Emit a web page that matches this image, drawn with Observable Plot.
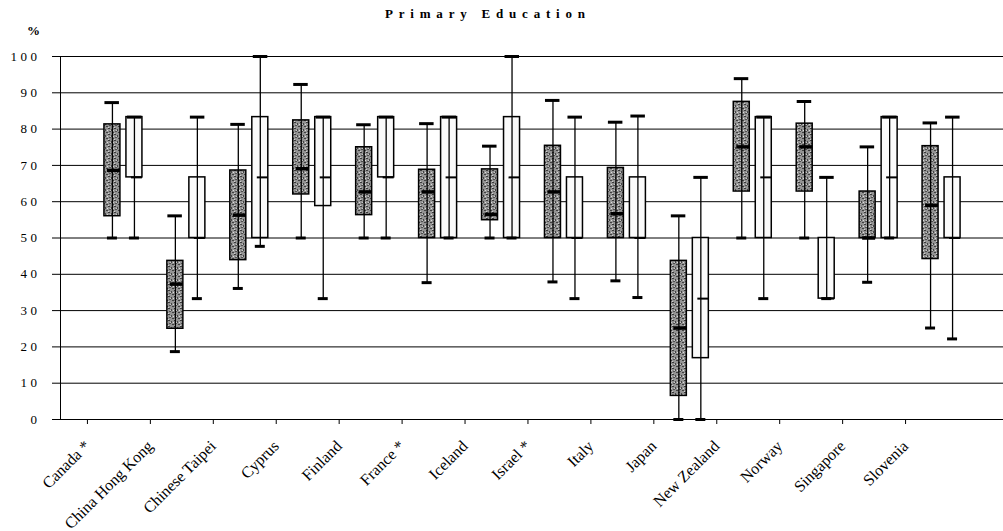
<!DOCTYPE html>
<html>
<head>
<meta charset="utf-8">
<script src="https://cdn.jsdelivr.net/npm/d3@7"></script>
<script src="https://cdn.jsdelivr.net/npm/@observablehq/plot@0.6"></script>
<style>
  body { margin: 0; background: #fff; }
  #wrap { position: relative; width: 1003px; }
  #hdr { position: relative; height: 44px; font-family: "Liberation Serif", serif; color: #000; }
  #title { position: absolute; left: 385px; top: 6px; font-size: 13px; font-weight: bold; letter-spacing: 5.8px; }
  #pct { position: absolute; left: 27px; top: 23px; font-size: 13px; font-weight: bold; }
  svg [aria-label="y-axis tick label"] text { letter-spacing: 3.5px; }
</style>
</head>
<body>
<div id="wrap">
  <div id="hdr"><div id="title">Primary Education</div><div id="pct">%</div></div>
  <div id="chart"></div>
</div>
<script>
const countries = ["Canada *","China Hong Kong","Chinese Taipei","Cyprus","Finland","France *","Iceland","Israel *","Italy","Japan","New Zealand","Norway","Singapore","Slovenia"];

// dark (shaded) boxes
const darkMin = [50, 18.7, 36.1, 50, 50, 37.7, 50, 37.9, 38.2, 0, 50, 50, 37.8, 25.2];
const darkQ1  = [56.0, 25.0, 43.9, 62.0, 56.3, 50, 54.9, 50, 50, 6.5, 62.8, 62.8, 50, 44.2];
const darkMed = [68.6, 37.3, 56.3, 69.1, 62.7, 62.7, 56.5, 62.7, 56.7, 25.2, 75.1, 75.1, 50, 59.0];
const darkQ3  = [81.3, 43.7, 68.6, 82.4, 75.0, 68.8, 68.9, 75.4, 69.3, 43.7, 87.5, 81.5, 62.8, 75.3];
const darkMax = [87.3, 56.1, 81.3, 92.3, 81.2, 81.5, 75.3, 87.9, 81.9, 56.1, 93.9, 87.6, 75.1, 81.7];

// light (white) boxes
const lightMin = [50, 33.3, 47.7, 33.3, 50, 50, 50, 33.3, 33.6, 0, 33.3, 33.3, 50, 22.2];
const lightQ1  = [66.7, 50, 50, 58.8, 66.7, 50, 50, 50, 50, 16.9, 50, 33.3, 50, 50];
const lightMed = [66.7, 50, 66.7, 66.7, 66.7, 66.7, 66.7, 50, 50, 33.3, 66.7, 33.3, 66.7, 50];
const lightQ3  = [83.3, 66.7, 83.3, 83.3, 83.3, 83.3, 83.3, 66.7, 66.7, 50, 83.3, 50, 83.3, 66.7];
const lightMax = [83.3, 83.3, 100, 83.3, 83.3, 83.3, 100, 83.3, 83.6, 66.7, 83.3, 66.7, 83.3, 83.3];

const yTicks = [0,10,20,30,40,50,60,70,80,90,100];

const dark = countries.map((c, i) => ({country: c, min: darkMin[i], q1: darkQ1[i], med: darkMed[i], q3: darkQ3[i], max: darkMax[i]}));
const light = countries.map((c, i) => ({country: c, min: lightMin[i], q1: lightQ1[i], med: lightMed[i], q3: lightQ3[i], max: lightMax[i]}));

const W = 1003, H = 487, mL = 60, mR = -1;
const bw = (W - mL - mR) / (countries.length + 1); // band width
const h = bw / 2;
// horizontal extent helpers (pixel offsets from band centre)
const span = (a, b) => ({insetLeft: h + a, insetRight: h - b});

const plot = Plot.plot({
  width: W,
  height: H,
  marginLeft: mL,
  marginRight: mR,
  marginTop: 12,
  marginBottom: 112,
  style: {fontFamily: "Liberation Serif, serif", fontSize: "14px", background: "#fff", color: "#000"},
  x: {type: "band", domain: countries, paddingInner: 0, paddingOuter: 0.5, round: false, label: null},
  y: {domain: [0, 100], label: null},
  marks: [
    Plot.gridY(yTicks, {stroke: "#000", strokeOpacity: 1, strokeWidth: 1}),
    Plot.frame({stroke: "#000"}),
    Plot.axisY({ticks: yTicks, tickSize: 8, tickPadding: 12, fontSize: 13, label: null, stroke: "#000"}),
    Plot.axisX({tickSize: 5, tickRotate: -45, tickPadding: 19, dx: -36, fontSize: 16, label: null}),
    // dark boxes
    Plot.rect(dark, {x: "country", y1: "q1", y2: "q3", fill: "url(#speck)", stroke: "#000", strokeWidth: 1.5, ...span(-19, -3)}),
    Plot.ruleX(dark, {x: "country", y1: "min", y2: "max", dx: -11, stroke: "#000", strokeWidth: 1.3}),
    Plot.tickY(dark, {x: "country", y: "max", stroke: "#000", strokeWidth: 3, ...span(-18.5, -4)}),
    Plot.tickY(dark, {x: "country", y: "min", stroke: "#000", strokeWidth: 3, ...span(-16, -6)}),
    Plot.tickY(dark, {x: "country", y: "med", stroke: "#000", strokeWidth: 3.5, ...span(-16, -3)}),
    // light boxes
    Plot.rect(light, {x: "country", y1: "q1", y2: "q3", fill: "#fafafa", stroke: "#000", strokeWidth: 1.5, ...span(3, 19)}),
    Plot.ruleX(light, {x: "country", y1: "min", y2: "max", dx: 11, stroke: "#000", strokeWidth: 1.3}),
    Plot.tickY(light, {x: "country", y: "max", stroke: "#000", strokeWidth: 3, ...span(4, 18.5)}),
    Plot.tickY(light, {x: "country", y: "min", stroke: "#000", strokeWidth: 3, ...span(6, 16)}),
    Plot.tickY(light, {x: "country", y: "med", stroke: "#000", strokeWidth: 2, ...span(8, 19)})
  ]
});

// speckled pattern for the shaded boxes
const ns = "http://www.w3.org/2000/svg";
const defs = document.createElementNS(ns, "defs");
defs.innerHTML = `<pattern id="speck" width="6" height="6" patternUnits="userSpaceOnUse">
  <rect width="6" height="6" fill="#939393"/>
  <rect x="0" y="0" width="2" height="1" fill="#3a3a3a"/>
  <rect x="3" y="1" width="1" height="2" fill="#454545"/>
  <rect x="1" y="3" width="2" height="1" fill="#505050"/>
  <rect x="4" y="4" width="2" height="1" fill="#404040"/>
  <rect x="5" y="2" width="1" height="1" fill="#dcdcdc"/>
  <rect x="0" y="5" width="1" height="1" fill="#d0d0d0"/>
  <rect x="2" y="2" width="1" height="1" fill="#c8c8c8"/>
</pattern>`;
plot.insertBefore(defs, plot.firstChild);

document.getElementById("chart").appendChild(plot);
</script>
</body>
</html>
